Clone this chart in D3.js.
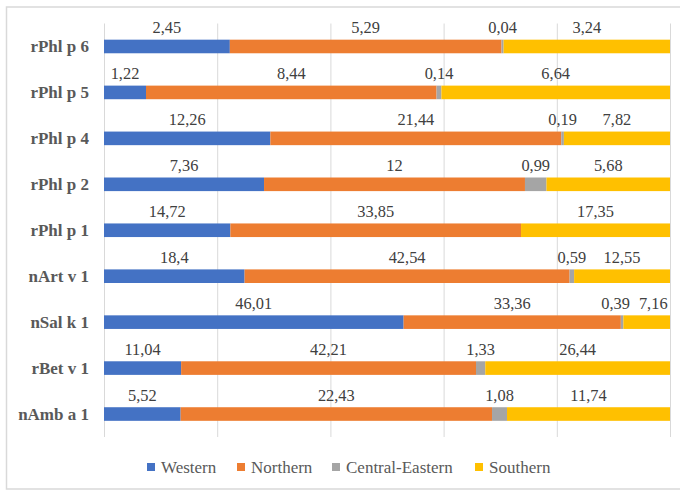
<!DOCTYPE html>
<html>
<head>
<meta charset="utf-8">
<script src="https://cdn.jsdelivr.net/npm/d3@7"></script>
<style>
  html, body { margin: 0; padding: 0; background: #fff; }
  svg { display: block; }
</style>
</head>
<body>
<svg id="chart" width="680" height="490"></svg>
<script>
// Allergen categories, top to bottom
const categories = ["rPhl p 6", "rPhl p 5", "rPhl p 4", "rPhl p 2", "rPhl p 1",
                    "nArt v 1", "nSal k 1", "rBet v 1", "nAmb a 1"];

// Region names (stack order, left to right)
const seriesNames = ["Western", "Northern", "Central-Eastern", "Southern"];

// Values per region, one per category (null = no value)
const western        = [2.45, 1.22, 12.26, 7.36, 14.72, 18.4, 46.01, 11.04, 5.52];
const northern       = [5.29, 8.44, 21.44, 12, 33.85, 42.54, 33.36, 42.21, 22.43];
const centralEastern = [0.04, 0.14, 0.19, 0.99, null, 0.59, 0.39, 1.33, 1.08];
const southern       = [3.24, 6.64, 7.82, 5.68, 17.35, 12.55, 7.16, 26.44, 11.74];

const seriesValues = [western, northern, centralEastern, southern];
const colors = ["#4472C4", "#ED7D31", "#A5A5A5", "#FFC000"];

const gridTicks = [0, 0.2, 0.4, 0.6, 0.8, 1];
const FONT = '"Liberation Serif"';

const svg = d3.select("#chart");

// Chart area frame
svg.append("rect")
  .attr("x", 6.5).attr("y", 7)
  .attr("width", 700).attr("height", 482)
  .attr("fill", "#fff")
  .attr("stroke", "#d9d9d9").attr("stroke-width", 1.5);

const x = d3.scaleLinear().domain([0, 1]).range([104, 670]);
const y = d3.scaleBand().domain(categories).range([23.5, 437])
  .paddingInner(0.704).paddingOuter(0.352);

// Vertical gridlines (percent axis, labels hidden)
svg.append("g")
  .attr("transform", "translate(0,437)")
  .call(d3.axisBottom(x).tickValues(gridTicks).tickSize(-(437 - 23.5)).tickFormat(""))
  .call(g => g.select(".domain").remove())
  .call(g => g.selectAll(".tick line").attr("stroke", "#d9d9d9").attr("stroke-width", 1));

// Build 100% stacked rows
const rows = categories.map((c, i) => {
  const vals = seriesValues.map(s => s[i]);
  const total = d3.sum(vals, v => v || 0);
  let acc = 0;
  const segs = vals.map((v, k) => {
    const x0 = acc / total;
    acc += (v || 0);
    return { cat: c, key: seriesNames[k], k, value: v, x0, x1: acc / total };
  });
  return { cat: c, segs };
});

const fmt = v => String(v).replace(".", ",");

const rowG = svg.append("g").selectAll("g").data(rows).join("g");

rowG.selectAll("rect")
  .data(d => d.segs.filter(s => s.value != null))
  .join("rect")
  .attr("x", s => x(s.x0))
  .attr("y", s => y(s.cat))
  .attr("width", s => x(s.x1) - x(s.x0))
  .attr("height", y.bandwidth())
  .attr("fill", s => colors[s.k]);

// Value labels above each segment, nudged apart where they would collide
rowG.each(function (row) {
  const g = d3.select(this);
  const segs = row.segs.filter(s => s.value != null);
  const texts = g.selectAll("text.val")
    .data(segs)
    .join("text")
    .attr("class", "val")
    .attr("y", s => y(s.cat) - 6.5)
    .attr("text-anchor", "middle")
    .style("font-family", FONT)
    .style("font-size", "16.4px")
    .attr("fill", "#404040")
    .text(s => fmt(s.value));
  const items = [];
  texts.each(function (s) {
    items.push({ node: this, cx: (x(s.x0) + x(s.x1)) / 2, w: this.getComputedTextLength() });
  });
  const gap = 9;
  for (let iter = 0; iter < 20; iter++) {
    for (let i = 1; i < items.length; i++) {
      const a = items[i - 1], b = items[i];
      const need = a.w / 2 + b.w / 2 + gap;
      const have = b.cx - a.cx;
      if (have < need) {
        const push = (need - have) / 2;
        a.cx -= push; b.cx += push;
      }
    }
  }
  items.forEach(it => d3.select(it.node).attr("x", it.cx));
});

// Category labels
svg.append("g").selectAll("text")
  .data(categories)
  .join("text")
  .attr("x", 89)
  .attr("y", c => y(c) + y.bandwidth() / 2)
  .attr("dy", "0.35em")
  .attr("text-anchor", "end")
  .style("font-family", FONT)
  .style("font-weight", "bold")
  .style("font-size", "17px")
  .attr("fill", "#595959")
  .text(c => c);

// Legend
const legendX = [147, 237, 332, 475];
const legend = svg.append("g").selectAll("g")
  .data(seriesNames)
  .join("g")
  .attr("transform", (d, i) => `translate(${legendX[i]},467)`);
legend.append("rect")
  .attr("x", 0).attr("y", -4)
  .attr("width", 8).attr("height", 8)
  .attr("fill", (d, i) => colors[i]);
legend.append("text")
  .attr("x", 14)
  .attr("y", 0)
  .attr("dy", "0.35em")
  .style("font-family", FONT)
  .style("font-size", "17px")
  .attr("fill", "#595959")
  .text(d => d);
</script>
</body>
</html>
